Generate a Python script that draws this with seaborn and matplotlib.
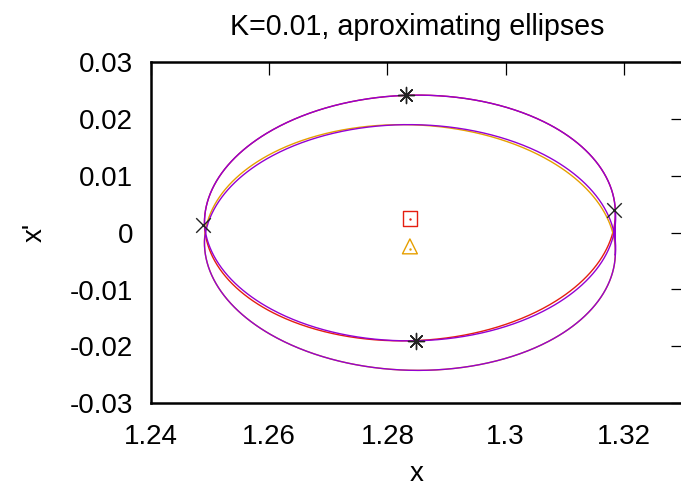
import numpy as np
import pandas as pd
import matplotlib
matplotlib.use("Agg")
import matplotlib.pyplot as plt
import seaborn as sns

# ---------------- data ----------------
title = "K=0.01, aproximating ellipses"
x_label = "x"
y_label = "x'"

x_ticks = [1.24, 1.26, 1.28, 1.30, 1.32]
x_tick_labels = ["1.24", "1.26", "1.28", "1.3", "1.32"]
y_ticks = [-0.03, -0.02, -0.01, 0.0, 0.01, 0.02, 0.03]
y_tick_labels = ["-0.03", "-0.02", "-0.01", "0", "0.01", "0.02", "0.03"]

# ellipse parameters: x = cx + ax*cos t + bx*sin t ; y = cy + ay*cos t + by*sin t
red_ellipse = dict(cx=1.2838, cy=0.0026, ax=0.03475, ay=0.00133, bx=-0.00078, by=0.02161)
orange_ellipse = dict(cx=1.2838, cy=-0.0026, ax=0.03475, ay=-0.00133, bx=0.00078, by=0.02161)

# trajectory loops (purple): each loop given by upper-half and lower-half bx
loopA_upper_bx = -0.00078
loopA_lower_bx = -0.00198
loopB_upper_bx = 0.00198
loopB_lower_bx = 0.00078

# fitting points (black): top/bottom asterisks, left/right crosses
star_x = [1.2832, 1.28475]
star_y = [0.02422, -0.0190]
cross_x = [1.24886, 1.31836]
cross_y = [0.00129, 0.00394]

# ellipse centres
center_x = [1.2838, 1.2838]
center_y = [0.0025, -0.0024]

# ---------------- helpers ----------------
t_full = np.linspace(0, 2 * np.pi, 721)
t_up = np.linspace(0, np.pi, 361)
t_lo = np.linspace(np.pi, 2 * np.pi, 361)


def ellipse_xy(p, t, bx=None):
    bx = p["bx"] if bx is None else bx
    return (p["cx"] + p["ax"] * np.cos(t) + bx * np.sin(t),
            p["cy"] + p["ay"] * np.cos(t) + p["by"] * np.sin(t))


def loop_xy(p, bx_up, bx_lo):
    x1, y1 = ellipse_xy(p, t_up, bx_up)
    x2, y2 = ellipse_xy(p, t_lo, bx_lo)
    return np.concatenate([x1, x2]), np.concatenate([y1, y2])


rx, ry = ellipse_xy(red_ellipse, t_full)
ox, oy = ellipse_xy(orange_ellipse, t_full)
ax1, ay1 = loop_xy(red_ellipse, loopA_upper_bx, loopA_lower_bx)
bx1, by1 = loop_xy(orange_ellipse, loopB_upper_bx, loopB_lower_bx)
purple_x = np.concatenate([ax1, bx1])
purple_y = np.concatenate([ay1, by1])

df_red = pd.DataFrame({"x": rx, "y": ry})
df_orange = pd.DataFrame({"x": ox, "y": oy})
df_purple = pd.DataFrame({"x": purple_x, "y": purple_y})

# ---------------- styling ----------------
sns.set_theme(style="white")
plt.rcParams["font.family"] = ["Liberation Sans", "DejaVu Sans"]
plt.rcParams["axes.unicode_minus"] = False

RED = "#e51e10"
ORANGE = "#e69f00"
PURPLE = "#9400d3"

fig = plt.figure(figsize=(6.81, 4.86), dpi=100)
W, H = 681, 486
left_px, right_px, top_px, bottom_px = 151, 683, 62.5, 403
ax = fig.add_axes([left_px / W, 1 - bottom_px / H,
                   (right_px - left_px) / W, (bottom_px - top_px) / H])

sns.lineplot(data=df_red, x="x", y="y", sort=False, estimator=None,
             color=RED, lw=1.0, ax=ax)
sns.lineplot(data=df_orange, x="x", y="y", sort=False, estimator=None,
             color=ORANGE, lw=1.0, ax=ax)
sns.lineplot(data=df_purple, x="x", y="y", sort=False, estimator=None,
             color=PURPLE, lw=1.0, ax=ax)

sns.scatterplot(x=star_x, y=star_y, marker=(8, 2, 0), s=135, color="#222222",
                linewidth=1.0, ax=ax, zorder=5)
sns.scatterplot(x=cross_x, y=cross_y, marker="x", s=110, color="#222222",
                linewidth=1.0, ax=ax, zorder=5)
sns.scatterplot(x=center_x[:1], y=center_y[:1], marker="s", s=105,
                facecolor="none", edgecolor=RED, linewidth=1.0, ax=ax, zorder=5)
sns.scatterplot(x=center_x[1:], y=center_y[1:], marker="^", s=115,
                facecolor="none", edgecolor=ORANGE, linewidth=1.0, ax=ax, zorder=5)
sns.scatterplot(x=center_x[:1], y=center_y[:1], marker="o", s=3, color=RED,
                linewidth=0, ax=ax, zorder=6)
sns.scatterplot(x=center_x[1:], y=[center_y[1] - 0.0004], marker="o", s=3,
                color=ORANGE, linewidth=0, ax=ax, zorder=6)

ax.set_xlim(1.24, 1.33)
ax.set_ylim(-0.03, 0.03)
ax.set_xticks(x_ticks)
ax.set_xticklabels(x_tick_labels)
ax.set_yticks(y_ticks)
ax.set_yticklabels(y_tick_labels)

FS = 20
ax.tick_params(axis="both", which="major", direction="in", length=9, width=0.9,
               color="black", labelsize=FS, top=True, right=True,
               labelcolor="black")
ax.tick_params(axis="x", pad=15)
ax.tick_params(axis="y", pad=13)
for s in ax.spines.values():
    s.set_visible(True)
    s.set_color("black")
    s.set_linewidth(1.8)

ax.set_xlabel(x_label, fontsize=FS, color="black", labelpad=8)
ax.set_ylabel(y_label, fontsize=FS, color="black", labelpad=16)
ax.set_title(title, fontsize=20.6, color="black", pad=20)

fig.savefig("out.png", dpi=100)
